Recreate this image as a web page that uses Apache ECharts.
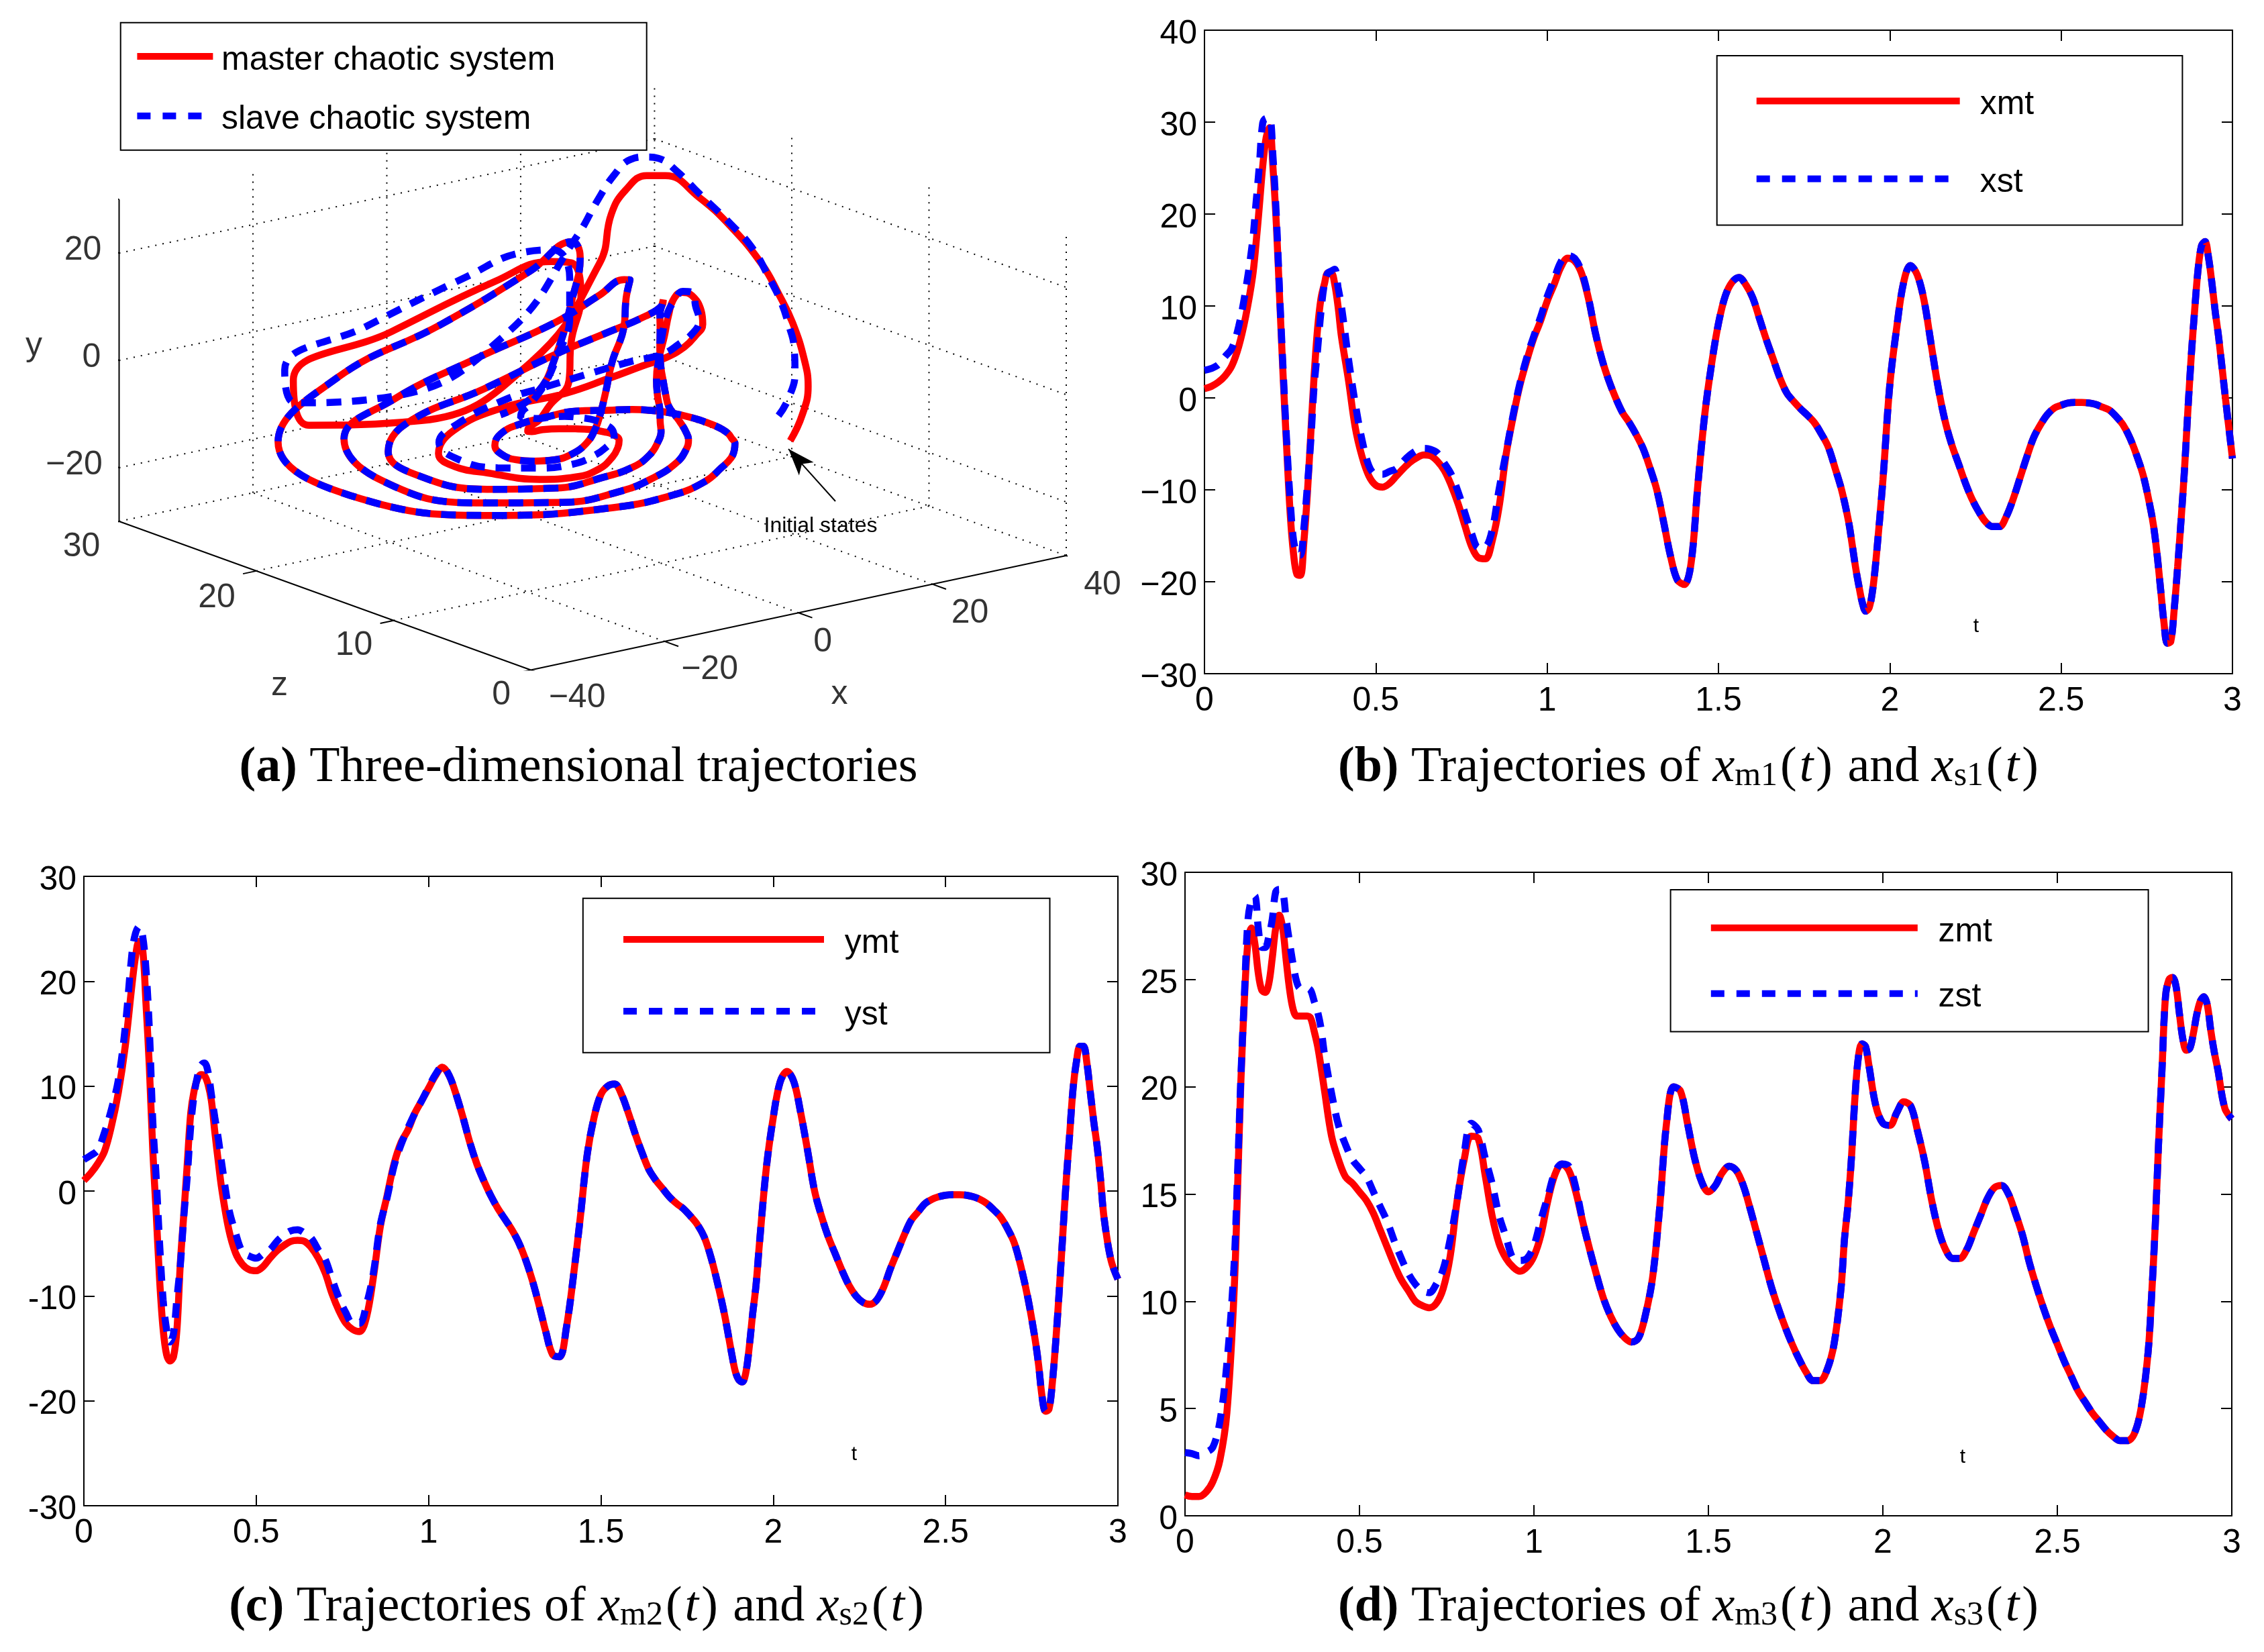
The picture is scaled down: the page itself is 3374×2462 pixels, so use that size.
<!DOCTYPE html>
<html><head><meta charset="utf-8"><style>html,body{margin:0;padding:0;background:#fff}#c{width:3374px;height:2462px}</style>
<script src="https://cdn.jsdelivr.net/npm/echarts@6/dist/echarts.min.js"></script></head>
<body><div id="c"></div>
<script>
const tValues=[0,.02,.04,.06,.08,.1,.12,.14,
.15,.16,.17,.18,.19,.2,.21,.22,.23,.24,.25,.26,.27,.28,.29,.3,.31,.32,.33,.34,.35,.36,.37,.38,.39,.4,
.42,.44,.46,.48,.5,.52,.54,.56,.58,.6,.62,.64,.66,.68,.7,.72,.74,.76,.78,.8,.82,.84,.86,.88,.9,.92,.94,.96,.98,
1,1.02,1.04,1.06,1.08,1.1,1.12,1.14,1.16,1.18,1.2,1.22,1.24,1.26,1.28,1.3,1.32,1.34,1.36,1.38,1.4,1.42,1.44,1.46,1.48,1.5,1.52,1.54,1.56,1.58,1.6,1.62,1.64,1.66,1.68,1.7,1.72,1.74,1.76,1.78,1.8,1.82,1.84,1.86,1.88,
1.89,1.9,1.91,1.92,1.93,1.94,1.95,1.96,
1.98,2,2.02,2.04,2.06,2.08,2.1,2.12,2.14,2.16,2.18,2.2,2.22,2.24,2.26,2.28,2.3,2.32,2.34,2.36,2.38,2.4,2.42,2.44,2.46,2.48,2.5,2.52,2.54,2.56,2.58,2.6,2.62,2.64,2.66,2.68,2.7,2.72,2.74,2.76,
2.77,2.78,2.79,2.8,2.81,2.82,2.83,2.84,2.85,2.86,2.87,2.88,2.89,2.9,2.91,2.92,2.93,2.94,2.95,2.96,
2.98,3];
const xMaster=[1,1.25,1.7,2.4,3.5,5.6,8.8,13.1,
16.6,20.8,25.2,28.3,29.4,25,18.7,10.3,2,-5.5,-12.5,-17,-19.2,-19.3,-15.7,-10.6,-4.1,2.4,7.5,10.8,12.4,13.6,13.6,12.4,9.9,6.6,
2,-3.2,-6.4,-8.5,-9.5,-9.7,-9.3,-8.5,-7.7,-7,-6.5,-6.2,-6.3,-6.9,-7.9,-9.5,-11.5,-13.9,-16.2,-17.4,-17.5,-15.5,-11.8,-6.2,-2.2,1.3,4,6.4,8.3,
10.5,12.3,14.2,15.2,14.9,13.6,10.9,7.2,4.2,1.9,0,-1.6,-2.7,-4,-5.5,-7.6,-10,-13.5,-17.2,-19.8,-20.3,-18,-9.4,-1.8,3.7,8.1,11.1,12.6,13.1,12.3,10.9,8.6,6.3,4.2,2.1,.5,-.4,-1.2,-1.9,-2.7,-3.9,-5.3,-7.6,-10.1,-13.5,
-15.9,-18.4,-20.5,-22.3,-23.2,-22.8,-20.9,-17.5,
-8.9,1.4,7.6,12.5,14.4,13.4,10.6,6,1.4,-2.3,-5,-7.1,-9.2,-11,-12.4,-13.5,-14,-14,-12.9,-11,-8.7,-6.4,-4.3,-2.9,-1.8,-1.1,-.8,-.55,-.5,-.5,-.55,-.7,-1,-1.3,-2,-2.9,-4.3,-6.2,-8.5,-11.9,
-14,-17,-20.7,-24.4,-26.7,-26.5,-23,-18.4,-13.3,-7.8,-1.3,4.7,9.7,14.1,16.6,17,15.3,12.5,9.3,6.5,
-.2,-6.6];
const yMaster=[1,1.7,2.6,3.8,6.2,9.4,13.8,19.8,
22.4,23.8,23.2,18,11.8,3.8,-2.2,-8.6,-13.2,-15.6,-16.2,-15.8,-13.2,-6.8,-2.2,2.6,7.4,9.6,10.7,11.1,11,10.2,8.6,5.6,2.8,.2,
-3.6,-5.9,-7,-7.5,-7.6,-7.2,-6.4,-5.7,-5.2,-4.8,-4.7,-4.8,-5.4,-6.4,-7.8,-9.8,-11.4,-12.6,-13.2,-13.4,-12,-8.2,-3.4,-.4,2.6,4.6,5.8,7.4,8.6,
9.8,11,11.8,11,9.2,7,4.6,2.6,1,-.4,-1.6,-2.6,-3.6,-4.8,-6.4,-8.4,-10.8,-13.4,-15.6,-15.8,-13,-8.2,-2.6,3.4,7,9.2,10,10.2,9.2,7.4,5.4,3.6,2,1,.2,-.6,-1.2,-1.7,-2.4,-3.2,-4.4,-6.4,-9,-12,-15.6,
-17.2,-18,-18.2,-17.4,-15,-11.8,-9,-5,
2.2,7,10.4,11.4,10.4,7.4,3.8,0,-2.4,-4.4,-6,-7.6,-9,-10,-10.6,-10.8,-10.4,-9.2,-7.4,-5.8,-4.2,-2.8,-2,-1.2,-.8,-.55,-.4,-.35,-.35,-.4,-.55,-.8,-1.2,-1.8,-2.5,-3.6,-5,-7.4,-10.4,-14.2,
-16.6,-19.6,-21,-20.8,-18.2,-14.2,-9.4,-4.2,1,5.4,9.8,12.4,13.8,13.8,12.2,9.4,6.6,4.2,1,-2.6,
-6.6,-8.4];
const zMaster=[.97,.9,.9,1.1,1.6,2.6,4.8,10.2,
14.9,20.2,24,26.7,27.4,26.7,25.3,24.5,24.4,24.8,26,27.4,28,27.4,25.9,24.5,23.6,23.3,23.3,23.3,23.3,23.2,22.6,21.9,20.9,19.8,
17.7,16.6,15.8,15.5,15.1,14.7,14.1,13.3,12.5,11.7,11,10.5,10,9.8,9.7,9.9,10.6,12.1,14.7,16.6,17.7,17.6,15.9,14,12.7,12,11.6,11.4,11.6,
12.1,13.1,14.7,15.9,16.4,16.1,15.1,13.7,12.4,11.2,10.1,9.3,8.7,8.3,8.1,8.3,9.4,11.1,14.3,18.3,20,19.8,18.3,16.7,15.6,15.1,15.4,16,16.3,16.1,15.4,14.3,13.1,11.9,10.7,9.7,8.8,8,7.3,6.7,6.3,6.3,6.8,8,10.6,
12.9,14.5,16.7,19.5,21.4,22,21.9,21,
19.1,18.3,18.2,18.8,19.3,19.1,17.9,16.5,14.7,13.3,12.4,12,12,12.4,13.2,14,14.8,15.3,15.4,15,14.1,13.1,11.8,10.7,9.7,8.8,8,7.2,6.5,5.8,5.3,4.8,4.4,4,3.7,3.5,3.5,3.8,5,7.6,
10.2,13.3,17.3,20.8,24.2,25,25.1,24.7,23.4,22.2,21.7,21.8,22.5,23.4,24,24.2,23.8,22.6,21.6,20.8,
19,18.5];
const xSlaveEarly=[3,3.2,3.6,4.5,5.4,7.8,11.7,16.9,
21,25.2,29.9,30.4,30.4,26.2,19.6,10.8,2.7,-4.8,-11.1,-15.5,-16.9,-17.1,-14.2,-9.7,-4.8,1.3,5.2,9.4,12.4,13.6,13.8,14,12,9.9,
4.3,-.6,-4.6,-7.4,-8.3,-8.3,-8,-7.7,-6.9,-6.2,-5.7,-5.5,-5.6,-6,-7.1,-8.3,-10.2,-12.5,-14.8,-16.3,-16.2,-14.3,-9.9,-6,-2,1.5,4.3,6.6,8.7,
11,12.9,14.8,15.5,15.2,13.8,11];
const ySlaveEarly=[3,3.4,3.9,5.6,7.8,10.6,15.6,22.8,
24.6,25.2,24.4,21.2,15.4,6.6,1.2,-5.2,-10.4,-13.2,-14.4,-13.6,-10.2,-7,-2.4,1.4,6.2,9.2,11,12,12.2,11.4,9.2,7,5,2.6,
-1.6,-4,-5.8,-6.2,-6.4,-6,-5.6,-4.8,-4.2,-3.8,-3.7,-4,-4.5,-5.6,-6.5,-8.4,-10.2,-11.6,-12.6,-12.6,-10.8,-7.8,-3.2,-.6,2.4,4.4,6,7.4,8.6,
9.9,11.1,11.9];
const zSlaveEarly=[2.95,2.9,2.8,2.95,3.2,4.4,7.1,11.5,
15.7,20.4,24.2,27.7,28.7,28.9,27.4,26.5,26.5,27,27.8,29.1,29.2,29.1,27.8,26.7,25.7,24.9,24.6,24.6,24.6,24.5,24,23.5,22.7,21.5,
19.7,18.2,17.3,16.6,16.2,15.8,15.1,14.4,13.7,12.8,12,11.3,10.8,10.5,10.4,10.8,11.5,12.9,14.7,16.9,18.3,18,16.7,15.5,14,13,12,11.9,12,
12.6,13.8,14.9,16,16.4,16.3,15.3];
// after the transient the slave lies on the master curve in the picture
const xSlave=xSlaveEarly.concat(xMaster.slice(xSlaveEarly.length));
const ySlave=ySlaveEarly.concat(yMaster.slice(ySlaveEarly.length));
const zSlave=zSlaveEarly.concat(zMaster.slice(zSlaveEarly.length));
const archMaster=[[.7086,.4849],[.7210,.5381],[.7275,.5999],[.7235,.6561],[.7111,.7346],[.6962,.7963],[.6788,.8581],[.6465,.9367],[.6117,1.0011],[.5769,1.0461],[.5571,1.0461],[.5347,1.0152],[.5197,.9647]];
const archSlave=[[.6962,.5381],[.7061,.5719],[.7136,.628],[.7126,.684],[.7071,.729],[.6987,.7795],[.6862,.83],[.6689,.8917],[.6465,.9422],[.6117,1.0096],[.5893,1.0545],[.5695,1.0826],[.5571,1.0855],[.5396,1.0798],[.5222,1.0461],[.5049,.9928]];
const xTicks3D=[-40,-20,0,20,40];
const yTicks3D=[-20,0,20];
const zTicks3D=[0,10,20,30];
const RED='#ff0000',BLUE='#0000ff',SANS='"Liberation Sans",Arial,sans-serif',SERIF='"Liberation Serif",serif',FS=50,LW=10.5;
const minus=v=>String(v).replace('-','\u2212');

// panel (a): orthographic projection of (x,y,z) onto a hidden u/v cartesian grid
const project=(x,y,z)=>[(x+40)/80*0.5653+0.4347*(1-z/30),(x+40)/80*0.242+z/30*0.3144+(y+30)/60*0.681];
const BREAK=['-','-'];
const dots=[],solid=[];
const seg=(list,a,b)=>{list.push(project(...a),project(...b),BREAK);};
[...xTicks3D.slice(1,4)].forEach(x=>{seg(dots,[x,-30,0],[x,-30,30]);seg(dots,[x,-30,30],[x,30,30]);});
seg(dots,[40,-30,30],[40,30,30]);
[10,20].forEach(z=>{seg(dots,[-40,-30,z],[40,-30,z]);seg(dots,[40,-30,z],[40,30,z]);});
seg(dots,[40,-30,0],[40,30,0]);
seg(dots,[-40,-30,30],[40,-30,30]);seg(dots,[40,-30,30],[40,-30,0]);
yTicks3D.forEach(y=>{seg(dots,[-40,y,30],[40,y,30]);seg(dots,[40,y,30],[40,y,0]);});
seg(solid,[-40,-30,30],[-40,30,30]);seg(solid,[-40,-30,30],[-40,-30,0]);seg(solid,[-40,-30,0],[40,-30,0]);
xTicks3D.forEach(x=>seg(solid,[x,-30,0],[x,-30,-1]));
yTicks3D.concat([30]).forEach(y=>seg(solid,[-40,y,30],[-40,y,31]));
zTicks3D.forEach(z=>seg(solid,[-40,-30,z],[-42,-30,z]));

const labelsSeries=items=>({type:'scatter',xAxisIndex:0,yAxisIndex:0,symbolSize:1,silent:true,clip:false,
  itemStyle:{color:'transparent'},
  data:items.map(it=>({value:it.pt,text:it.text,label:{offset:it.offset}})),
  label:{show:true,position:'inside',color:'#000',fontFamily:SANS,fontSize:FS,formatter:p=>p.data.text}});
const yOff={'-20':[-67,-4],'0':[-41,-4],'20':[-54,-4]};
const xOff={'-40':[69,42],'-20':[67,42],'0':[36,44],'20':[56,44],'40':[54,44]};
const zOff={'0':[-44,38],'10':[-59,38],'20':[-59,40],'30':[-56,38]};

const grids=[
 {left:177.5,top:118,width:1411.5,height:880.5},
 {left:1795,top:45,width:1532,height:959},
 {left:125,top:1306,width:1541,height:938},
 {left:1766,top:1300,width:1560,height:959}];
const axisCommon={axisLine:{show:true,onZero:false,lineStyle:{color:'#000',width:2}},
  axisTick:{show:true,inside:true,length:16,lineStyle:{color:'#000',width:2}},splitLine:{show:false}};
const labelStyle={color:'#000',fontFamily:SANS,fontSize:FS};
const xAxes=[{gridIndex:0,type:'value',min:0,max:1,show:false}],yAxes=[{gridIndex:0,type:'value',min:0,max:1.25,show:false}];
const panels=[
 {grid:1,min:-30,max:40,step:10,fmt:minus},
 {grid:2,min:-30,max:30,step:10,fmt:v=>String(v)},
 {grid:3,min:0,max:30,step:5,fmt:v=>String(v)}];
panels.forEach(p=>{
 p.xi=xAxes.length;p.yi=yAxes.length;
 xAxes.push({...axisCommon,gridIndex:p.grid,type:'value',min:0,max:3,interval:.5,position:'bottom',
   axisLabel:{...labelStyle,margin:16,formatter:v=>String(v)}});
 xAxes.push({...axisCommon,gridIndex:p.grid,type:'value',min:0,max:3,interval:.5,position:'top',axisLabel:{show:false}});
 yAxes.push({...axisCommon,gridIndex:p.grid,type:'value',min:p.min,max:p.max,interval:p.step,position:'left',
   axisLabel:{...labelStyle,margin:11,formatter:v=>'{v|'+p.fmt(v)+'}',rich:{v:{...labelStyle,padding:[12,0,0,0]}}}});
 yAxes.push({...axisCommon,gridIndex:p.grid,type:'value',min:p.min,max:p.max,interval:p.step,position:'right',axisLabel:{show:false}});
});
const lineOf=isSlave=>isSlave?{color:BLUE,width:LW,type:[22,16],cap:'butt'}:{color:RED,width:LW};
const curve=(name,vals,p,isSlave)=>({name,type:'line',xAxisIndex:p.xi,yAxisIndex:p.yi,showSymbol:false,symbol:'none',smooth:.35,silent:true,
  data:tValues.map((t,i)=>[t,vals[i]]),lineStyle:lineOf(isSlave),itemStyle:{color:isSlave?BLUE:RED}});
// every second hundredth of t, from the end of the arch onwards
const traj3d=(name,arch,xs,ys,zs,isSlave)=>({name,type:'line',xAxisIndex:0,yAxisIndex:0,showSymbol:false,symbol:'none',smooth:.45,silent:true,
  data:arch.concat(tValues.map((t,i)=>[t,i]).filter(([t])=>t>=.195&&Math.round(t*100)%2===0).map(([t,i])=>project(xs[i],ys[i],zs[i]))),
  lineStyle:lineOf(isSlave),itemStyle:{color:isSlave?BLUE:RED}});

const series=[
 {type:'line',xAxisIndex:0,yAxisIndex:0,symbol:'none',silent:true,data:dots,connectNulls:false,lineStyle:{color:'#000',width:2,type:[2,9]}},
 {type:'line',xAxisIndex:0,yAxisIndex:0,symbol:'none',silent:true,data:solid,connectNulls:false,lineStyle:{color:'#000',width:2},
  markLine:{silent:true,symbol:['none','arrow'],symbolSize:[22,40],label:{show:false},lineStyle:{color:'#000',width:2,type:'solid'},
    data:[[{coord:[.7563,.357]},{coord:[.7067,.4677]}]]}},
 traj3d('master chaotic system',archMaster,xMaster,yMaster,zMaster,false),
 traj3d('slave chaotic system',archSlave,xSlave,ySlave,zSlave,true),
 curve('xmt',xMaster,panels[0],false),curve('xst',xSlave,panels[0],true),
 curve('ymt',yMaster,panels[1],false),curve('yst',ySlave,panels[1],true),
 curve('zmt',zMaster,panels[2],false),curve('zst',zSlave,panels[2],true),
 labelsSeries(yTicks3D.map(y=>({pt:project(-40,y,30),text:minus(y),offset:yOff[y]}))),
 labelsSeries(xTicks3D.map(x=>({pt:project(x,-30,0),text:minus(x),offset:xOff[x]}))),
 labelsSeries(zTicks3D.map(z=>({pt:project(-40,-30,z),text:String(z),offset:zOff[z]}))),
 labelsSeries([{pt:project(0,-30,0),text:'x',offset:[61,122]},{pt:project(-40,-30,10),text:'z',offset:[-170,98]},{pt:project(-40,20,30),text:'y',offset:[-127,139]}])
];

// legend keys drawn as a solid bar or a dashed bar of the same length
const dashIcon=w=>{let d='';for(let s=0;s<w;s+=38){const e=Math.min(s+20,w);d+='M'+s+',0L'+e+',0L'+e+',10L'+s+',10Z';}return 'path://'+d+'M'+w+',0L'+w+',10';};
const legendBox=(names,left,top,pad,itemWidth,textGap,textW,itemGap)=>({
  data:[{name:names[0],icon:'rect'},{name:names[1],icon:dashIcon(itemWidth)}],orient:'vertical',left,top,padding:pad,itemWidth,itemHeight:10,itemGap,selectedMode:false,
  backgroundColor:'#fff',borderColor:'#000',borderWidth:2,borderRadius:0,align:'left',
  formatter:n=>'{t|'+n+'}',
  textStyle:{color:'#000',fontFamily:SANS,fontSize:FS,rich:{t:{color:'#000',fontFamily:SANS,fontSize:FS,lineHeight:50,width:textW,align:'left',padding:[12,0,0,textGap]}}}});
const legends=[
 legendBox(['master chaotic system','slave chaotic system'],179.7,33.8,[19.2,73.7,20,24.7],113,7.6,560,26.7),
 legendBox(['xmt','xst'],2558.7,83,[36.6,101.7,37.9,59],303,25,200,54),
 legendBox(['ymt','yst'],868.8,1338.75,[30.25,105.7,30.75,60.2],299,25.8,200,45),
 legendBox(['zmt','zst'],2489.6,1326,[25.8,113.2,25.8,60.2],308,25.6,200,35.9)];

const CF=74;
const capRich={
 b:{fontFamily:SERIF,fontWeight:'bold',fontSize:CF,color:'#000'},
 r:{fontFamily:SERIF,fontSize:CF,color:'#000'},
 p:{fontFamily:SERIF,fontSize:CF,color:'#000',padding:[0,4,0,4]},
 i:{fontFamily:SERIF,fontStyle:'italic',fontSize:CF,color:'#000'},
 s:{fontFamily:SERIF,fontSize:50,color:'#000',padding:[24,0,0,0]}};
const caption=(text,left,top)=>({text,left,top,textAlign:'center',padding:0,textStyle:{rich:capRich,color:'#000',fontFamily:SERIF,fontSize:CF,fontWeight:'normal'}});
const small=(text,left,top,fontSize)=>({text,left,top,textAlign:'center',padding:0,textStyle:{color:'#000',fontFamily:SANS,fontSize,fontWeight:'normal'}});
const traj=(n)=>'{r|Trajectories of }{i|x}{s|m'+n+'}{p|(}{i|t}{p|)}{r| and }{i|x}{s|s'+n+'}{p|(}{i|t}{p|)}';
const titles=[
 caption('{b|(a)} {r|Three-dimensional trajectories}',862,1108),
 caption('{b|(b)} '+traj(1),2518,1108),
 caption('{b|(c)} '+traj(2),861,2359),
 caption('{b|(d)} '+traj(3),2518,2359),
 small('Initial states',1223,768,32),
 small('t',2945,919,30),small('t',1273,2153,30),small('t',2925,2157,30)];

const chart=echarts.init(document.getElementById('c'),null,{renderer:'canvas',width:3374,height:2462,devicePixelRatio:1});
chart.setOption({animation:false,backgroundColor:'#fff',grid:grids,xAxis:xAxes,yAxis:yAxes,series,legend:legends,title:titles,tooltip:{show:false}});
</script></body></html>
